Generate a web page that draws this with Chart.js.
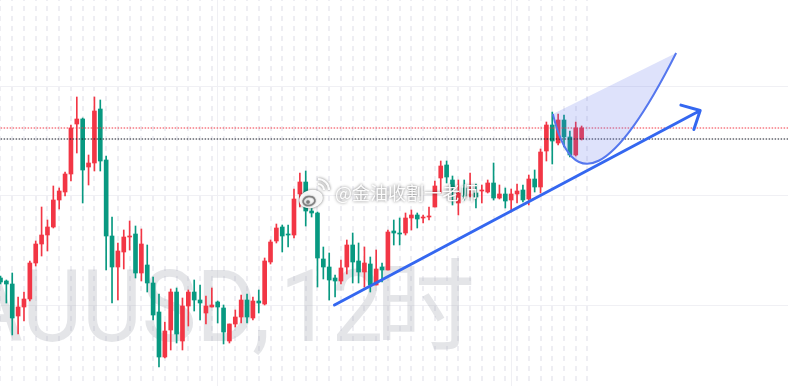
<!DOCTYPE html>
<html>
<head>
<meta charset="utf-8">
<script src="https://cdn.jsdelivr.net/npm/chart.js@4.4.1/dist/chart.umd.min.js"></script>
<style>
  html, body { margin: 0; padding: 0; background: #fff; }
  #wrap { width: 788px; height: 386px; }
</style>
</head>
<body>
<div id="wrap"><canvas id="chart" width="788" height="386"></canvas></div>
<script>
// XAUUSD 12h candles
const opens = [2522, 2519, 2516, 2484, 2493, 2501, 2537, 2556, 2565, 2573,
  2600, 2608, 2626, 2676, 2681, 2633, 2637, 2691, 2640, 2564,
  2533, 2548, 2563, 2566, 2527, 2535, 2517, 2488, 2443, 2470,
  2508, 2459, 2494, 2508, 2500, 2487, 2493, 2498, 2492, 2459,
  2476, 2483, 2500, 2482, 2499, 2496, 2538, 2559, 2573, 2566,
  2565, 2606, 2618, 2589, 2587, 2541, 2533, 2522, 2519, 2533,
  2555, 2539, 2528, 2536, 2515, 2533, 2530, 2569, 2567, 2567,
  2582, 2585, 2582, 2583, 2593, 2622, 2635, 2620, 2597, 2612,
  2604, 2607, 2609, 2608, 2617, 2602, 2606, 2600, 2606, 2610,
  2601, 2621, 2613, 2649, 2675, 2657, 2680, 2663, 2645, 2661];
const highs = [2524, 2520, 2527, 2503, 2508, 2539, 2559, 2593, 2580, 2614,
  2612, 2628, 2675, 2703, 2682, 2645, 2703, 2700, 2644, 2583,
  2557, 2570, 2579, 2574, 2571, 2555, 2523, 2506, 2478, 2511,
  2512, 2502, 2510, 2520, 2515, 2504, 2512, 2499, 2495, 2476,
  2490, 2505, 2506, 2503, 2510, 2542, 2560, 2576, 2575, 2575,
  2611, 2627, 2629, 2597, 2588, 2553, 2547, 2525, 2540, 2560,
  2567, 2557, 2553, 2543, 2550, 2537, 2570, 2580, 2582, 2587,
  2590, 2587, 2585, 2593, 2619, 2639, 2639, 2624, 2620, 2620,
  2627, 2616, 2615, 2620, 2637, 2615, 2612, 2611, 2616, 2615,
  2625, 2630, 2651, 2678, 2688, 2686, 2685, 2669, 2678, 2674];
const lows = [2516, 2497, 2465, 2466, 2479, 2499, 2534, 2544, 2549, 2572,
  2591, 2604, 2619, 2647, 2597, 2615, 2629, 2629, 2530, 2497,
  2500, 2531, 2550, 2522, 2519, 2508, 2480, 2433, 2442, 2450,
  2457, 2450, 2474, 2489, 2480, 2476, 2493, 2477, 2456, 2457,
  2473, 2477, 2477, 2480, 2487, 2495, 2536, 2557, 2548, 2553,
  2562, 2593, 2574, 2583, 2513, 2521, 2500, 2503, 2516, 2526,
  2517, 2517, 2513, 2508, 2515, 2518, 2530, 2555, 2555, 2565,
  2570, 2572, 2577, 2580, 2593, 2607, 2617, 2595, 2585, 2600,
  2603, 2592, 2597, 2607, 2600, 2601, 2592, 2588, 2597, 2598,
  2595, 2608, 2607, 2639, 2636, 2655, 2653, 2643, 2644, 2660];
const closes = [2518, 2516, 2482, 2493, 2501, 2537, 2556, 2565, 2573, 2600,
  2609, 2626, 2672, 2681, 2630, 2637, 2689, 2639, 2564, 2533,
  2549, 2563, 2564, 2527, 2556, 2517, 2485, 2443, 2469, 2508,
  2466, 2494, 2508, 2500, 2497, 2494, 2495, 2493, 2468, 2476,
  2483, 2500, 2483, 2499, 2497, 2539, 2558, 2572, 2564, 2565,
  2601, 2618, 2589, 2587, 2542, 2533, 2520, 2519, 2532, 2555,
  2538, 2528, 2537, 2515, 2531, 2530, 2568, 2567, 2566, 2582,
  2585, 2581, 2583, 2584, 2614, 2634, 2623, 2613, 2607, 2604,
  2606, 2603, 2610, 2617, 2602, 2606, 2599, 2606, 2609, 2600,
  2621, 2613, 2648, 2675, 2659, 2680, 2663, 2645, 2672, 2672];

const lastPrice = 2672;
const prevPrice = 2661;
const priceGrid = [2495, 2605, 2714];
const sessionGrid = [12, 62];

// drawings, in (bar index, price)
const trendStart = [56.9, 2495];
const trendEnd = [119.2, 2689.5];
const curveStart = [94.1, 2686];
const curveControl = [99.2, 2562];
const curveEnd = [115.1, 2747];

const symbolName = 'XAUUSD,';
const intervalNum = '12';
const intervalUnit = '时';
const weiboText = '@金油收割一老师';

const UP = '#F23645';
const DOWN = '#089981';

const idx = opens.map((_, i) => i);
const colors = idx.map(i => closes[i] >= opens[i] ? UP : DOWN);

const watermark = {
  id: 'watermark',
  beforeDatasetsDraw(chart) {
    const ctx = chart.ctx;
    ctx.save();
    ctx.fillStyle = 'rgba(170,174,184,0.32)';
    ctx.textBaseline = 'alphabetic';
    ctx.textAlign = 'left';
    ctx.font = '100px Roboto';
    // squeeze the latin part so "UUSD" spans about 224px like the picture
    const u = ctx.measureText('UUSD');
    const sx = 224 / (u.actualBoundingBoxLeft + u.actualBoundingBoxRight);
    const m1 = ctx.measureText(symbolName);
    const m2 = ctx.measureText(intervalNum);
    ctx.save();
    ctx.scale(sx, 1);
    ctx.fillText(symbolName, 267 / sx - m1.actualBoundingBoxRight, 341);
    ctx.fillText(intervalNum, 287 / sx + m2.actualBoundingBoxLeft, 341);
    ctx.restore();
    ctx.font = '100px "Noto Sans CJK SC"';
    const m3 = ctx.measureText(intervalUnit);
    ctx.fillText(intervalUnit, 383 + m3.actualBoundingBoxLeft, 342);
    ctx.restore();
  }
};

const drawings = {
  id: 'drawings',
  afterDatasetsDraw(chart) {
    const { ctx, scales: { x, y } } = chart;
    const px = p => [x.getPixelForValue(p[0]), y.getPixelForValue(p[1])];
    const a = px(curveStart), c = px(curveControl), b = px(curveEnd);
    ctx.save();
    ctx.beginPath();
    ctx.moveTo(a[0], a[1]);
    ctx.quadraticCurveTo(c[0], c[1], b[0], b[1]);
    ctx.closePath();
    ctx.fillStyle = 'rgba(90,110,235,0.2)';
    ctx.fill();
    ctx.beginPath();
    ctx.moveTo(a[0], a[1]);
    ctx.quadraticCurveTo(c[0], c[1], b[0], b[1]);
    ctx.strokeStyle = '#5577ee';
    ctx.lineWidth = 2;
    ctx.stroke();

    const s = px(trendStart), e = px(trendEnd);
    const ang = Math.atan2(e[1] - s[1], e[0] - s[0]);
    ctx.beginPath();
    ctx.moveTo(s[0], s[1]);
    ctx.lineTo(e[0], e[1]);
    [-0.76, 0.76].forEach(d => {
      ctx.moveTo(e[0], e[1]);
      ctx.lineTo(e[0] - 20 * Math.cos(ang + d), e[1] - 20 * Math.sin(ang + d));
    });
    ctx.strokeStyle = '#3467f0';
    ctx.lineWidth = 3;
    ctx.lineCap = 'round';
    ctx.lineJoin = 'round';
    ctx.stroke();
    ctx.restore();
  }
};

const weibo = {
  id: 'weibo',
  afterDraw(chart) {
    const ctx = chart.ctx;
    ctx.save();
    ctx.shadowColor = 'rgba(0,0,0,0.6)';
    ctx.shadowBlur = 3;
    ctx.fillStyle = 'rgba(255,255,255,0.95)';
    ctx.strokeStyle = 'rgba(255,255,255,0.95)';
    // logo
    ctx.beginPath();
    ctx.ellipse(311, 199, 12, 9, -0.25, 0, Math.PI * 2);
    ctx.fill();
    ctx.lineWidth = 2.2;
    ctx.beginPath();
    ctx.arc(318, 190, 6, -Math.PI / 2, 0);
    ctx.stroke();
    ctx.beginPath();
    ctx.arc(318, 190, 11, -Math.PI / 2, 0);
    ctx.stroke();
    ctx.shadowBlur = 1.5;
    ctx.strokeStyle = 'rgba(120,120,120,0.8)';
    ctx.lineWidth = 1.5;
    ctx.beginPath();
    ctx.ellipse(309, 201, 6, 4.5, -0.2, 0, Math.PI * 2);
    ctx.stroke();
    ctx.fillStyle = 'rgba(120,120,120,0.8)';
    ctx.beginPath();
    ctx.arc(308, 202, 1.8, 0, Math.PI * 2);
    ctx.fill();
    // name
    ctx.shadowBlur = 3;
    ctx.fillStyle = 'rgba(255,255,255,0.95)';
    ctx.font = '18px "Noto Sans CJK SC"';
    ctx.textBaseline = 'middle';
    ctx.fillText(weiboText, 335, 193);
    ctx.restore();
  }
};

const oddTicks = idx.filter(i => i % 2 === 1);

new Chart(document.getElementById('chart'), {
  type: 'bar',
  data: {
    datasets: [
      {
        type: 'line',
        data: [{ x: -1, y: lastPrice }, { x: 140, y: lastPrice }],
        borderColor: UP, borderWidth: 1, borderDash: [1.5, 1.5],
        pointRadius: 0, order: 0
      },
      {
        type: 'line',
        data: [{ x: -1, y: prevPrice }, { x: 140, y: prevPrice }],
        borderColor: '#131722', borderWidth: 1, borderDash: [1.5, 1.5],
        pointRadius: 0, order: 0
      },
      {
        data: idx.map(i => ({ x: i, y: [opens[i], closes[i]] })),
        backgroundColor: colors,
        barThickness: 4, grouped: false, minBarLength: 1, order: 1
      },
      {
        data: idx.map(i => ({ x: i, y: [lows[i], highs[i]] })),
        backgroundColor: colors,
        barThickness: 1, grouped: false, order: 2
      }
    ]
  },
  options: {
    responsive: false,
    animation: false,
    events: [],
    layout: { padding: 0 },
    plugins: { legend: { display: false }, tooltip: { enabled: false } },
    scales: {
      x: {
        type: 'linear', offset: false,
        min: -0.085, max: 134.16,
        afterBuildTicks: axis => { axis.ticks = oddTicks.map(v => ({ value: v })); },
        ticks: { display: false },
        grid: { color: '#eeeef3', lineWidth: 2, drawTicks: false },
        border: { display: false, dash: [5, 5], dashOffset: 4 }
      },
      x2: {
        type: 'linear', position: 'bottom', offset: false,
        min: -0.085, max: 134.16,
        afterBuildTicks: axis => { axis.ticks = sessionGrid.map(v => ({ value: v })); },
        ticks: { display: false },
        grid: { color: '#f0f0f4', lineWidth: 1, drawTicks: false },
        border: { display: false }
      },
      y: {
        min: 2414, max: 2800,
        afterBuildTicks: axis => { axis.ticks = priceGrid.map(v => ({ value: v })); },
        ticks: { display: false },
        grid: { color: '#f0f0f4', lineWidth: 1, drawTicks: false },
        border: { display: false }
      }
    }
  },
  plugins: [watermark, drawings, weibo]
});
</script>
</body>
</html>
